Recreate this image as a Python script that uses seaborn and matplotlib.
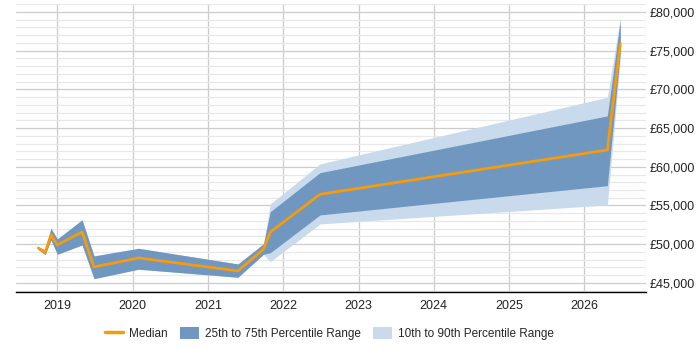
import matplotlib
matplotlib.use("Agg")
import matplotlib.pyplot as plt
import matplotlib.dates as mdates
from matplotlib.ticker import FuncFormatter, MultipleLocator
from matplotlib.patches import Patch
from matplotlib.lines import Line2D
import numpy as np
import pandas as pd
import seaborn as sns

# values
dates = ["2018-10-01", "2018-11-03", "2018-12-01", "2019-01-01", "2019-05-01",
         "2019-06-28", "2020-01-30", "2021-05-26", "2021-09-27", "2021-10-30",
         "2022-06-28", "2026-04-22", "2026-06-24"]
median = [49500, 48950, 51200, 49900, 51580, 47060, 48225, 46550, 49350, 51550, 56450, 62175, 75950]
p25 = [49300, 48650, 50550, 48700, 49900, 45550, 46770, 45730, 48700, 48900, 53780, 57560, 74800]
p75 = [49650, 49250, 52060, 50680, 53150, 48480, 49470, 47450, 50050, 54200, 59240, 66570, 78900]
p10 = [49300, 48650, 50550, 48700, 49900, 45550, 46770, 45730, 48700, 47750, 52620, 55070, 74000]
p90 = [49650, 49250, 52060, 50680, 53150, 48480, 49470, 47450, 50050, 55200, 60370, 68980, 79300]

col_median = "#f59b0c"
col_iqr = "#7097bf"
col_outer = "#c8daec"

df = pd.DataFrame({"date": pd.to_datetime(dates), "median": median,
                   "p25": p25, "p75": p75, "p10": p10, "p90": p90})

sns.set_style("white")
plt.rcParams["font.family"] = ["Liberation Sans", "DejaVu Sans"]

fig = plt.figure(figsize=(7, 3.5), dpi=100)
ax = fig.add_axes([0.023, 0.166, 0.9, 0.822])

ax.fill_between(df["date"], df["p10"], df["p90"], color=col_outer, lw=0, zorder=2)
ax.fill_between(df["date"], df["p25"], df["p75"], color=col_iqr, lw=0, zorder=3)
sns.lineplot(data=df, x="date", y="median", color=col_median, lw=2, ax=ax, zorder=4)

ax.set_xlim(pd.Timestamp("2018-06-15"), pd.Timestamp("2026-10-27"))
ax.set_ylim(43840, 81000)

ax.xaxis.set_major_locator(mdates.YearLocator())
ax.xaxis.set_major_formatter(mdates.DateFormatter("%Y"))
ax.yaxis.set_major_locator(MultipleLocator(5000))
ax.yaxis.set_minor_locator(MultipleLocator(1000))
ax.yaxis.set_major_formatter(FuncFormatter(lambda v, p: f"£{v:,.0f}"))
ax.yaxis.tick_right()

ax.grid(True, which="major", axis="both", color="#cccccc", lw=0.9, zorder=0)
ax.grid(True, which="minor", axis="y", color="#e8e8e8", lw=0.9, zorder=0)
ax.set_axisbelow(True)

for s in ["top", "left", "right"]:
    ax.spines[s].set_visible(False)
ax.spines["bottom"].set_color("black")
ax.spines["bottom"].set_linewidth(1)

ax.tick_params(axis="both", which="both", length=0, labelsize=9, colors="#222222")
ax.tick_params(axis="x", pad=6)
ax.tick_params(axis="y", pad=2.5)
ax.set_xlabel("")
ax.set_ylabel("")

handles = [Line2D([0], [0], color=col_median, lw=2.5),
           Patch(facecolor=col_iqr, edgecolor="none"),
           Patch(facecolor=col_outer, edgecolor="none")]
labels = ["Median", "25th to 75th Percentile Range", "10th to 90th Percentile Range"]
fig.legend(handles, labels, loc="center", bbox_to_anchor=(0.470, 0.047), ncol=3,
           frameon=False, fontsize=8.5, handlelength=1.55, handleheight=1.1,
           columnspacing=1.1, handletextpad=0.5)

fig.savefig("out.png", dpi=100)
